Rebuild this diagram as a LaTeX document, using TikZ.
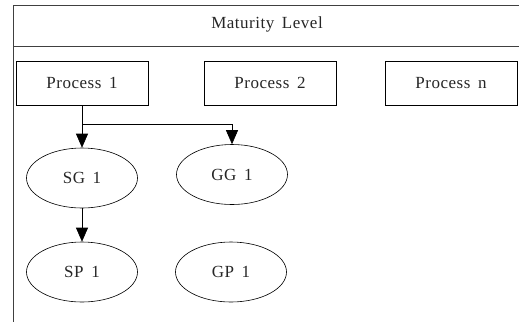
\documentclass[tikz,border=0pt]{standalone}
\usepackage{fontspec}
\setmainfont{Liberation Serif}[WordSpace={1.6},LetterSpace=3]
\usetikzlibrary{arrows.meta,shapes.geometric}
\begin{document}
\begin{tikzpicture}[x=1pt,y=-1pt,
  txt/.style={font=\fontsize{17}{19}\selectfont,text=black!85},
  frameline/.style={draw=black!75,line width=0.8pt},
  procbox/.style={draw,txt,line width=0.6pt,minimum width=132pt,minimum height=44pt,inner sep=0pt},
  goal/.style={draw,ellipse,txt,line width=0.6pt,minimum width=111pt,minimum height=60pt,inner sep=0pt},
  link/.style={line width=0.6pt,-{Triangle[width=12pt,length=14pt]}}]
\useasboundingbox (0,0) rectangle (519,322);
\draw[frameline] (519,5) -- (13,5) -- (13,322);
\draw[frameline] (13,46) -- (519,46);
\node[txt] (title) at (267,24) {Maturity Level};
\node[procbox] (p1) at (82,83) {Process 1};
\node[procbox] (p2) at (270,83) {Process 2};
\node[procbox] (pn) at (451,83) {Process n};
\node[goal] (sg1) at (82,178) {SG 1};
\node[goal] (gg1) at (232,174.5) {GG 1};
\node[goal] (sp1) at (82,272) {SP 1};
\node[goal] (gp1) at (231,272) {GP 1};
\coordinate (br) at (82,124);
\draw[link] (p1.south) -- (sg1.north);
\draw[link] (br) -| (gg1.north);
\draw[link] (sg1.south) -- (sp1.north);
\end{tikzpicture}
\end{document}
